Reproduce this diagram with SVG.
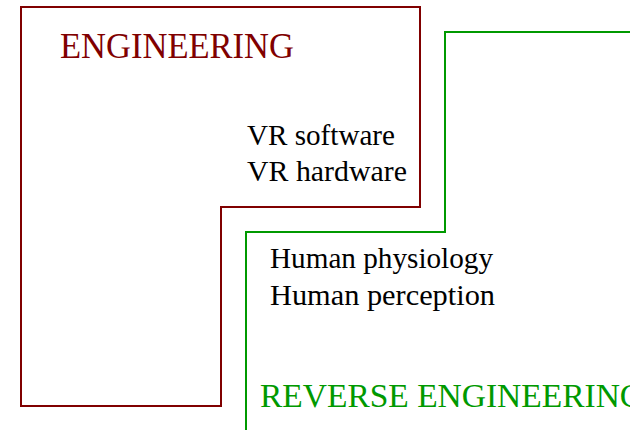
<svg xmlns="http://www.w3.org/2000/svg" width="630" height="430" viewBox="0 0 630 430">
<style>
.t{font-family:"Liberation Serif","Times New Roman",serif;}
.blk{font-size:29px;fill:#000;}
</style>
<rect width="630" height="430" fill="#fff"/>
<g id="engineering">
<polygon points="21,7 420,7 420,207 221,207 221,406 21,406" fill="none" stroke="#800000" stroke-width="2"/>
<text class="t" x="60" y="57.5" font-size="35" fill="#800000" textLength="234" lengthAdjust="spacingAndGlyphs">ENGINEERING</text>
<text class="t blk" x="247" y="144.7" textLength="148" lengthAdjust="spacingAndGlyphs">VR software</text>
<text class="t blk" x="247" y="181.3" textLength="160" lengthAdjust="spacingAndGlyphs">VR hardware</text>
</g>
<g id="reverse-engineering">
<polyline points="246,430 246,232 445,232 445,32 630,32" fill="none" stroke="#009900" stroke-width="2"/>
<text class="t blk" x="270" y="268" textLength="223" lengthAdjust="spacingAndGlyphs">Human physiology</text>
<text class="t blk" x="270" y="305" textLength="225" lengthAdjust="spacingAndGlyphs">Human perception</text>
<text class="t" x="260" y="406.7" font-size="33" fill="#009900" textLength="384" lengthAdjust="spacingAndGlyphs">REVERSE ENGINEERING</text>
</g>
<g id="connectors"/>
</svg>
